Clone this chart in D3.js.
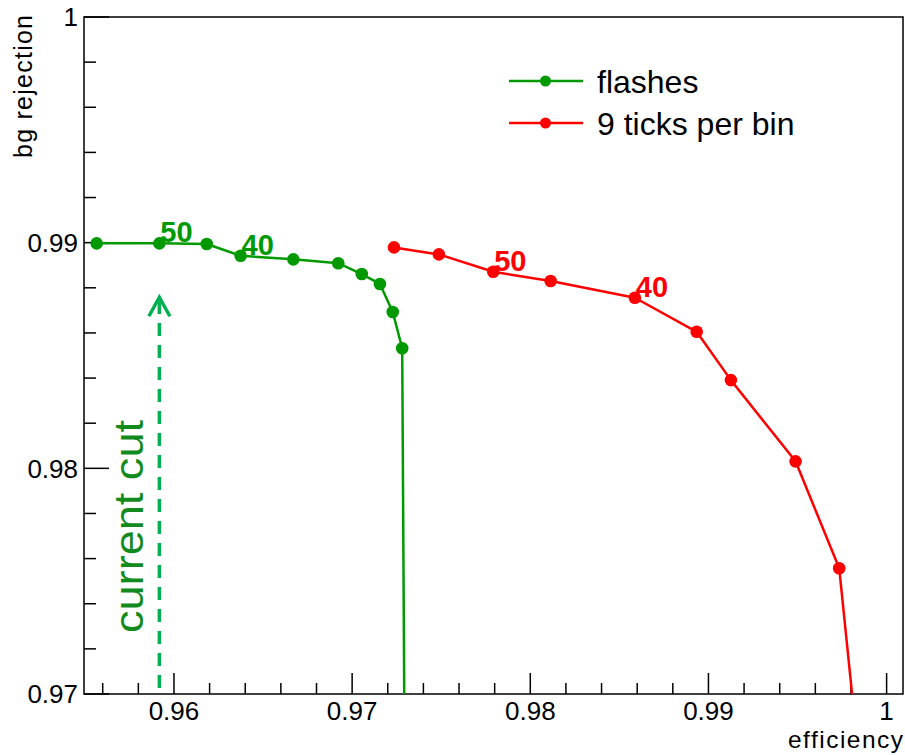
<!DOCTYPE html>
<html>
<head>
<meta charset="utf-8">
<script src="https://cdn.jsdelivr.net/npm/d3@7"></script>
<style>
  html, body { margin: 0; padding: 0; background: #fff; }
  svg { display: block; }
  text { font-family: "Liberation Sans", Arial, Helvetica, sans-serif; }
</style>
</head>
<body>
<svg id="chart" width="905" height="755"></svg>
<script>
// ---------------- data ----------------
const flashEff = [0.95566, 0.95918, 0.96184, 0.96374, 0.96670, 0.96922, 0.97054, 0.97156, 0.97228, 0.97281, 0.97300];
const flashRej = [0.98997, 0.98997, 0.98994, 0.98942, 0.98926, 0.98909, 0.98861, 0.98817, 0.98693, 0.98532, 0.96000];
const ticksEff = [0.97235, 0.97487, 0.97792, 0.98114, 0.98587, 0.98934, 0.99126, 0.99489, 0.99734, 0.99936];
const ticksRej = [0.98979, 0.98948, 0.98871, 0.98830, 0.98756, 0.98605, 0.98391, 0.98031, 0.97557, 0.96000];
const flashPointLabels = [{ index: 1, text: "50" }, { index: 3, text: "40" }];
const ticksPointLabels = [{ index: 2, text: "50" }, { index: 4, text: "40" }];
const seriesNames = ["flashes", "9 ticks per bin"];
const xTickLabels = [0.96, 0.97, 0.98, 0.99, 1];
const yTickLabels = [0.97, 0.98, 0.99, 1];
const cutEff = 0.95918;
const cutFrom = 0.97027;
const cutTo = 0.98758;
const cutText = "current cut";
const xTitle = "efficiency";
const yTitle = "bg rejection";

// ---------------- layout ----------------
const frame = { left: 84, right: 903, top: 17, bottom: 694 };
const green = "#009a00", red = "#ff0000";

const svg = d3.select("#chart");
const x = d3.scaleLinear().domain([0.95495, 1.00092]).range([frame.left, frame.right]);
const y = d3.scaleLinear().domain([0.97, 1.0]).range([frame.bottom, frame.top]);

svg.append("defs").append("clipPath").attr("id", "clip")
  .append("rect")
  .attr("x", frame.left).attr("y", frame.top)
  .attr("width", frame.right - frame.left).attr("height", frame.bottom - frame.top);

// frame
svg.append("rect")
  .attr("x", frame.left).attr("y", frame.top)
  .attr("width", frame.right - frame.left).attr("height", frame.bottom - frame.top)
  .attr("fill", "none").attr("stroke", "#000").attr("stroke-width", 1.5);

// x axis ticks
const xMinor = d3.range(0.956, 1.0009, 0.002).filter(v => v <= x.domain()[1]);
const isMajor = (v, step) => Math.abs(Math.round(v / step) * step - v) < 1e-7;
const xAxisG = svg.append("g");
xAxisG.selectAll("line").data(xMinor).join("line")
  .attr("x1", d => x(d)).attr("x2", d => x(d))
  .attr("y1", frame.bottom)
  .attr("y2", d => frame.bottom - (isMajor(d, 0.01) ? 21 : 11))
  .attr("stroke", "#000").attr("stroke-width", 1.5);
xAxisG.selectAll("text").data(xTickLabels).join("text")
  .attr("x", d => x(d)).attr("y", 720)
  .attr("text-anchor", "middle")
  .attr("font-size", 26).attr("fill", "#000")
  .text(d => d3.format("~g")(d));

// y axis ticks
const yMinor = d3.range(0.970, 1.0001, 0.002);
const yAxisG = svg.append("g");
yAxisG.selectAll("line").data(yMinor).join("line")
  .attr("x1", frame.left)
  .attr("x2", d => frame.left + (isMajor(d, 0.01) ? 25 : 12))
  .attr("y1", d => y(d)).attr("y2", d => y(d))
  .attr("stroke", "#000").attr("stroke-width", 1.5);
yAxisG.selectAll("text").data(yTickLabels).join("text")
  .attr("x", 78).attr("y", d => y(d))
  .attr("dy", "0.36em")
  .attr("text-anchor", "end")
  .attr("font-size", 26).attr("fill", "#000")
  .text(d => d3.format("~g")(d));

// axis titles
svg.append("text")
  .attr("x", 903).attr("y", 748)
  .attr("text-anchor", "end")
  .attr("font-size", 24.5)
  .attr("textLength", 115).attr("lengthAdjust", "spacing")
  .text(xTitle);
svg.append("text")
  .attr("transform", "translate(32,15) rotate(-90)")
  .attr("text-anchor", "end")
  .attr("font-size", 25)
  .attr("textLength", 143).attr("lengthAdjust", "spacing")
  .text(yTitle);

// series
const line = d3.line().x(d => x(d[0])).y(d => y(d[1]));
const plotG = svg.append("g").attr("clip-path", "url(#clip)");

function drawSeries(effs, rejs, color, labels) {
  const pts = effs.map((e, i) => [e, rejs[i]]);
  plotG.append("path").datum(pts)
    .attr("d", line).attr("fill", "none")
    .attr("stroke", color).attr("stroke-width", 2.5).attr("stroke-linejoin", "round");
  plotG.selectAll(null).data(pts).join("circle")
    .attr("cx", d => x(d[0])).attr("cy", d => y(d[1]))
    .attr("r", 6.3).attr("fill", color);
  plotG.selectAll(null).data(labels).join("text")
    .attr("x", d => x(pts[d.index][0]) + 1)
    .attr("y", d => y(pts[d.index][1]) - 1)
    .attr("font-size", 29).attr("font-weight", "bold")
    .attr("fill", color)
    .text(d => d.text);
}
drawSeries(flashEff, flashRej, green, flashPointLabels);
drawSeries(ticksEff, ticksRej, red, ticksPointLabels);

// current cut arrow
const cutG = svg.append("g");
cutG.append("line")
  .attr("x1", x(cutEff)).attr("x2", x(cutEff))
  .attr("y1", y(cutFrom)).attr("y2", y(cutTo) + 4)
  .attr("stroke", "#00b050").attr("stroke-width", 3.5)
  .attr("stroke-dasharray", "13,9");
cutG.append("path")
  .attr("d", `M${x(cutEff) - 10.5},${y(cutTo) + 19} L${x(cutEff)},${y(cutTo)} L${x(cutEff) + 10.5},${y(cutTo) + 19}`)
  .attr("fill", "none").attr("stroke", "#00b050").attr("stroke-width", 3.5);
cutG.append("text")
  .attr("transform", "translate(143,633) rotate(-90)")
  .attr("font-family", "'Open Sans', sans-serif")
  .attr("font-size", 41)
  .attr("textLength", 213).attr("lengthAdjust", "spacingAndGlyphs")
  .attr("fill", "#138a1e")
  .text(cutText);

// legend
const legendColors = [green, red];
const legendG = svg.append("g");
seriesNames.forEach((name, i) => {
  const ly = 81 + i * 42;
  legendG.append("line")
    .attr("x1", 509).attr("x2", 583).attr("y1", ly).attr("y2", ly)
    .attr("stroke", legendColors[i]).attr("stroke-width", 2.5);
  legendG.append("circle")
    .attr("cx", 545.5).attr("cy", ly).attr("r", 5.5).attr("fill", legendColors[i]);
  legendG.append("text")
    .attr("x", 597).attr("y", ly + 11.5)
    .attr("font-size", 32).attr("fill", "#000")
    .text(name);
});
</script>
</body>
</html>
